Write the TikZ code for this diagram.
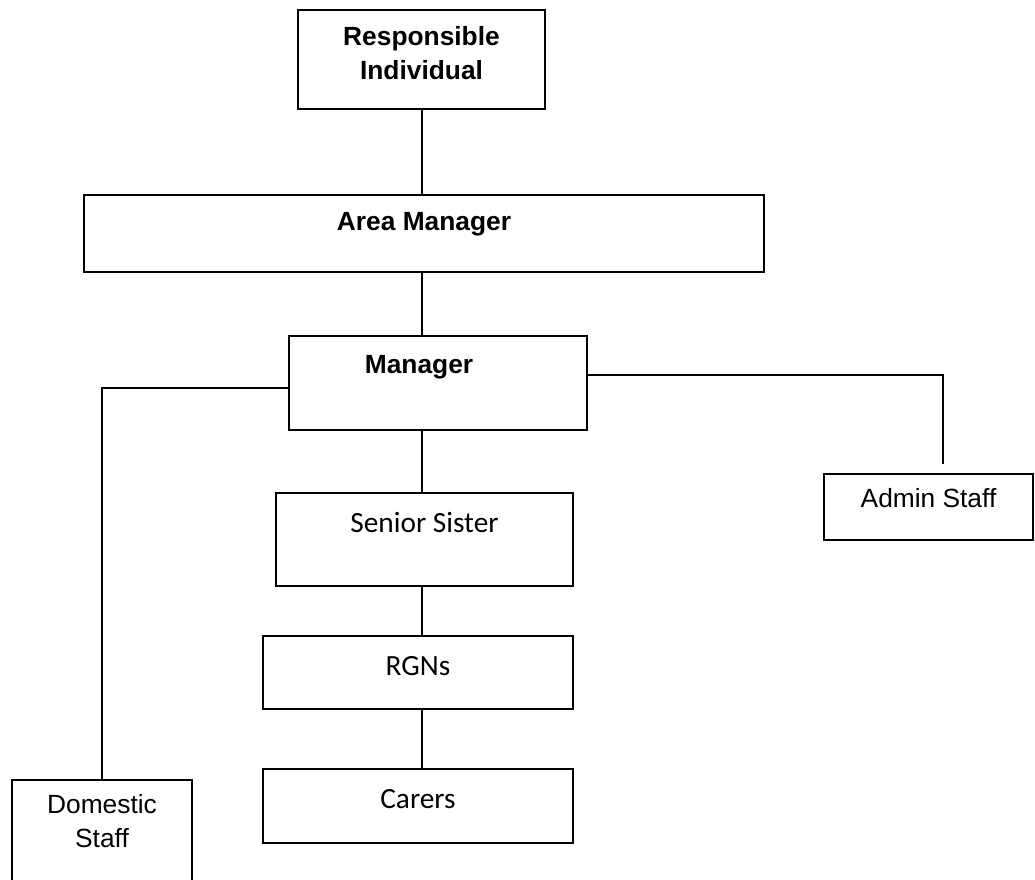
\documentclass[tikz,border=0pt]{standalone}
\usepackage{fontspec}
\setmainfont{Liberation Sans}
\newfontfamily\calibri{Carlito}
\begin{document}
\begin{tikzpicture}[x=0.75pt, y=-0.75pt,
    post/.style={draw, line width=1.4pt, inner sep=0pt, anchor=north, align=center,
        font=\fontsize{19.75pt}{25.5pt}\selectfont},
    head/.style={post, font=\fontsize{19.75pt}{25.5pt}\selectfont\bfseries},
    staff/.style={post, font=\fontsize{22pt}{26pt}\selectfont\calibri},
    link/.style={line width=1pt}]
    \useasboundingbox (0,0) rectangle (1035,879);

    % Management
    \node[head, minimum width=185.25pt, text height=52.5pt, text depth=21.75pt] (ri) at (421.5,9) {Responsible\\Individual};
    \node[head, minimum width=510pt, text height=27pt, text depth=30.75pt] (am) at (424,194) {Area Manager};
    \node[head, minimum width=223.5pt, text height=28.5pt, text depth=42pt] (mgr) at (438,335) {Manager\hspace*{28.5pt}};

    % Nursing line
    \node[staff, minimum width=222.75pt, text height=30pt, text depth=39.75pt] (ss) at (424.5,492) {Senior Sister};
    \node[staff, minimum width=232.5pt, text height=30pt, text depth=24.75pt] (rgn) at (418,635) {RGNs};
    \node[staff, minimum width=232.5pt, text height=30pt, text depth=25.5pt] (car) at (418,768) {Carers};

    % Side staff
    \node[post, minimum width=156.75pt, text height=25.5pt, text depth=24pt] (adm) at (928.5,473) {Admin Staff};
    \node[post, minimum width=135pt, text height=51pt, text depth=54.75pt] (dom) at (102,779) {Domestic\\Staff};
    \coordinate (admtop) at (943,464);

    % Connectors
    \coordinate (spine) at (422,0);
    \draw[link] (spine |- ri.south) -- (spine |- am.north);
    \draw[link] (spine |- am.south) -- (spine |- mgr.north);
    \draw[link] (spine |- mgr.south) -- (spine |- ss.north);
    \draw[link] (spine |- ss.south) -- (spine |- rgn.north);
    \draw[link] (spine |- rgn.south) -- (spine |- car.north);
    \draw[link] ([yshift=-3.75pt]mgr.west) -| (dom.north);
    \draw[link] ([yshift=6pt]mgr.east) -| (admtop);
\end{tikzpicture}
\end{document}
